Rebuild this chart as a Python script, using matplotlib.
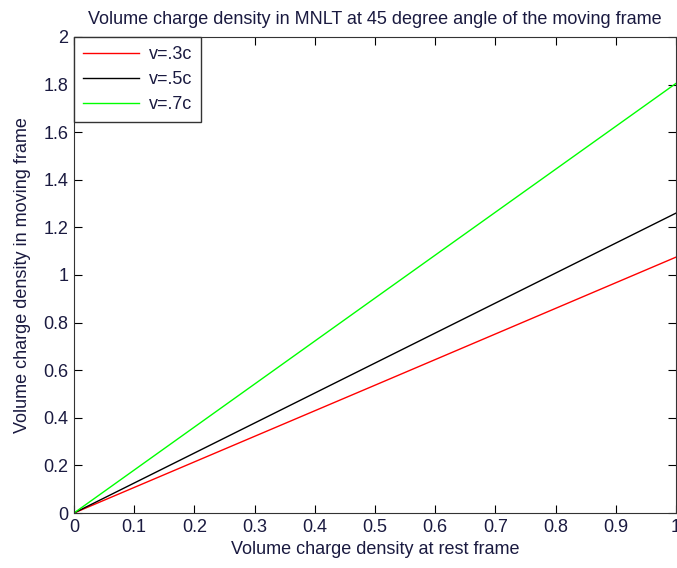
import numpy as np
import matplotlib
matplotlib.use('Agg')
import matplotlib.pyplot as plt

plt.rcParams['font.family'] = ['Liberation Sans', 'DejaVu Sans']

rest_density = [0, 0.5, 1]
moving_03c = [0, 0.537, 1.075]
moving_05c = [0, 0.63, 1.26]
moving_07c = [0, 0.903, 1.805]
labels = ['v=.3c', 'v=.5c', 'v=.7c']

fig = plt.figure(figsize=(6.77, 5.68), dpi=100)
ax = fig.add_axes([0.1093, 0.0968, 0.8892, 0.8381])

ax.plot(rest_density, moving_03c, color='#ff0000', lw=1, label=labels[0])
ax.plot(rest_density, moving_05c, color='#000000', lw=1, label=labels[1])
ax.plot(rest_density, moving_07c, color='#00ff00', lw=1, label=labels[2])

ax.set_xlim(0, 1)
ax.set_ylim(0, 2)
ax.set_xticks(np.arange(0, 1.01, 0.1))
ax.set_xticklabels(['0', '0.1', '0.2', '0.3', '0.4', '0.5', '0.6', '0.7', '0.8', '0.9', '1'])
ax.set_yticks(np.arange(0, 2.01, 0.2))
ax.set_yticklabels(['0', '0.2', '0.4', '0.6', '0.8', '1', '1.2', '1.4', '1.6', '1.8', '2'])
ax.tick_params(direction='in', top=True, right=True, length=6, labelsize=13, pad=4,
               labelcolor='#1a1a40')
for s in ax.spines.values():
    s.set_color('#333333')

ax.set_title('Volume charge density in MNLT at 45 degree angle of the moving frame',
             fontsize=13, pad=9, color='#1a1a40')
ax.set_xlabel('Volume charge density at rest frame', fontsize=13, labelpad=4, color='#1a1a40')
ax.set_ylabel('Volume charge density in moving frame', fontsize=13, labelpad=9, color='#1a1a40')

leg = ax.legend(loc='upper left', fontsize=13, fancybox=False, framealpha=1,
                edgecolor='#333333', borderaxespad=0, handlelength=3.1, handletextpad=0.55,
                borderpad=0.5, labelspacing=0.45)
leg.get_frame().set_linewidth(1)
for t in leg.get_texts():
    t.set_color('#1a1a40')

plt.savefig('out.png', dpi=100)
